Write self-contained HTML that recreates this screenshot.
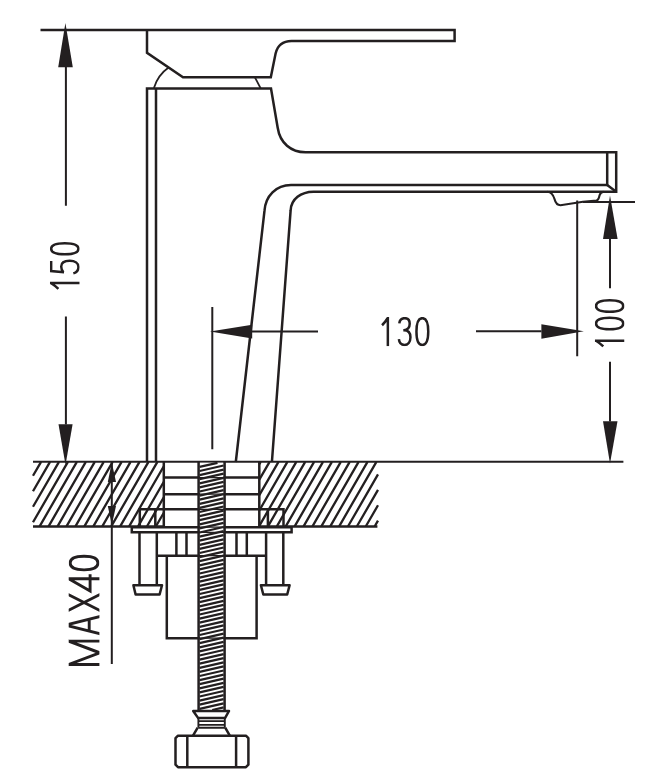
<!DOCTYPE html>
<html><head><meta charset="utf-8"><style>html,body{margin:0;padding:0;background:#fff;}svg{display:block;}</style></head>
<body><svg width="650" height="780" viewBox="0 0 650 780">
<rect width="650" height="780" fill="#fff"/>
<g fill="none" stroke="#231f20" stroke-width="2.5" stroke-linejoin="miter" stroke-linecap="butt">
  <!-- handle -->
  <path d="M40.5,30 H454.6 V40.9 H291.5 C283,41 277.5,45 275.6,53.5 L270.8,77.2 H183 L147,52.8 V30"/>
  <!-- body -->
  <path d="M147,462 V88.5 H271 L277.7,127.7 C280,143 291,152.2 305.5,152.2 H616.2 V191.7 H313.5 C301,191.8 291,199 290.6,210.7 L271.9,462"/>
  <path d="M156,88.5 V462"/>
  <path d="M235.8,462 L264.5,210.7 C265.5,196 276,185 291,185 H607.2 V152.2"/>
  <path d="M607.2,185 L616.2,191.7"/>
  <path d="M547.5,191.7 C551,192 553,194 554.5,199 C555.5,203 557,205.2 560.5,205.2 L583,201.8 L596.5,200.6 C598.5,200 599,198 599.5,195.5 C600,193.5 601,192 603.5,191.7" stroke-width="2.125"/>
</g>
<g fill="none" stroke="#231f20" stroke-width="1.8">
  <path d="M153.9,88 Q158,75 168.6,67.6"/>
  <path d="M254.8,77.2 L260.8,88.7"/>
</g>
<!-- dimension lines -->
<g fill="none" stroke="#231f20" stroke-width="2.0">
  <path d="M65.9,67 V205.8 M65.9,316.5 V424.5"/>
  <path d="M610,238.5 V288.3 M610,361.7 V421.5 M583,202 H635"/>
  <path d="M33,461.8 H623.4"/>
  <path d="M212.3,307 V449.2 M252,331.5 H318 M476,331.3 H541.5 M577.2,200.4 V356.2"/>
  <path d="M111.8,462 V664"/>
</g>
<g fill="#231f20" stroke="none">
  <path d="M65.4,23 L58.2,67.3 H72.8 Z"/>
  <path d="M65.5,465 L58.5,424.2 H72.6 Z"/>
  <path d="M610,195.5 L603,239 H617.6 Z"/>
  <path d="M610,463.5 L603,421.3 H617.5 Z"/>
  <path d="M210,331.5 L252.2,324.8 V338.6 Z"/>
  <path d="M583.8,331.3 L541.4,324.3 V338.7 Z"/>
  <path d="M111.8,462.5 L107.8,482 H116 Z"/>
  <path d="M111.8,525 L107.8,506 H116 Z"/>
</g>
<!-- counter -->
<g fill="none" stroke="#231f20" stroke-width="2.3">
  <path d="M33.00,475.77L41.07,461.80M33.00,491.27L50.02,461.80M33.00,506.77L58.97,461.80M33.00,522.28L67.92,461.80M39.63,526.30L76.87,461.80M48.58,526.30L85.82,461.80M57.53,526.30L94.77,461.80M66.48,526.30L103.72,461.80M75.43,526.30L112.67,461.80M84.38,526.30L121.62,461.80M93.33,526.30L130.57,461.80M102.28,526.30L139.52,461.80M111.23,526.30L148.47,461.80M120.18,526.30L157.42,461.80M129.13,526.30L163.80,466.25M138.08,526.30L163.80,481.75M147.03,526.30L163.80,497.25M155.98,526.30L163.80,512.75"/>
  <path d="M259.30,464.22L260.70,461.80M259.30,479.63L269.60,461.80M259.30,495.05L278.50,461.80M259.30,510.46L287.40,461.80M259.30,525.88L296.30,461.80M267.96,526.30L305.20,461.80M276.86,526.30L314.10,461.80M285.76,526.30L323.00,461.80M294.66,526.30L331.90,461.80M303.56,526.30L340.80,461.80M312.46,526.30L349.70,461.80M321.36,526.30L358.60,461.80M330.26,526.30L367.50,461.80M339.16,526.30L376.40,461.80M348.06,526.30L378.00,474.44M356.96,526.30L378.00,489.85M365.86,526.30L378.00,505.27M374.76,526.30L378.00,520.68"/>
</g>
<g fill="none" stroke="#231f20" stroke-width="2.5">
  <path d="M33,526.4 H163.8 V461.8 M259.3,461.8 V526.4 H377.4"/>
  <path d="M163.8,477.6 H259.3 M163.8,494.2 H259.3 M163.8,509.3 H259.3"/>
  <path d="M139.8,526.4 V509.3 H163.8 M155.3,509.3 V526.4"/>
  <path d="M283.5,526.4 V509.3 H259.3 M267.9,509.3 V526.4"/>
  <path d="M131.8,527.2 H291.6 V532.3 H131.8 Z"/>
  <!-- studs -->
  <path d="M139.5,532.3 V585.2 M156.8,532.3 V585.2 M133.4,585.2 H162 L159.6,594.5 H135.6 Z" stroke-linejoin="round"/>
  <path d="M266.1,532.3 V585.2 M283.3,532.3 V585.2 M260.9,585.2 H289.6 L287.2,594.5 H263.3 Z" stroke-linejoin="round"/>
  <!-- nut block -->
  <path d="M156.8,555.7 H266.1 M176.4,532.3 V555.7 M186.5,532.3 V555.7 M236.5,532.3 V555.7 M246.8,532.3 V555.7"/>
  <path d="M166.8,555.7 V638.2 H256.6 V555.7"/>
</g>
<!-- rod -->
<rect x="199.6" y="462.8" width="24" height="247.4" fill="#fff"/>
<g fill="none" stroke="#231f20" stroke-width="1.3">
  <path d="M198.6,477.6 H224.6 M198.6,494.2 H224.6 M198.6,509.3 H224.6 M198.6,527.2 H224.6 M198.6,532.3 H224.6 M198.6,555.7 H224.6 M198.6,638.2 H224.6"/>
</g>
<g fill="none" stroke="#231f20" stroke-width="2.3">
  <path d="M199.60,466.90L217.49,462.80M199.60,471.00L223.60,465.50M199.60,475.10L223.60,469.60M199.60,479.20L223.60,473.70M199.60,483.30L223.60,477.80M199.60,487.40L223.60,481.90M199.60,491.50L223.60,486.00M199.60,495.60L223.60,490.10M199.60,499.70L223.60,494.20M199.60,503.80L223.60,498.30M199.60,507.90L223.60,502.40M199.60,512.00L223.60,506.50M199.60,516.10L223.60,510.60M199.60,520.20L223.60,514.70M199.60,524.30L223.60,518.80M199.60,528.40L223.60,522.90M199.60,532.50L223.60,527.00M199.60,536.60L223.60,531.10M199.60,540.70L223.60,535.20M199.60,544.80L223.60,539.30M199.60,548.90L223.60,543.40M199.60,553.00L223.60,547.50M199.60,557.10L223.60,551.60M199.60,561.20L223.60,555.70M199.60,565.30L223.60,559.80M199.60,569.40L223.60,563.90M199.60,573.50L223.60,568.00M199.60,577.60L223.60,572.10M199.60,581.70L223.60,576.20M199.60,585.80L223.60,580.30M199.60,589.90L223.60,584.40M199.60,594.00L223.60,588.50M199.60,598.10L223.60,592.60M199.60,602.20L223.60,596.70M199.60,606.30L223.60,600.80M199.60,610.40L223.60,604.90M199.60,614.50L223.60,609.00M199.60,618.60L223.60,613.10M199.60,622.70L223.60,617.20M199.60,626.80L223.60,621.30M199.60,630.90L223.60,625.40M199.60,635.00L223.60,629.50M199.60,639.10L223.60,633.60M199.60,643.20L223.60,637.70M199.60,647.30L223.60,641.80M199.60,651.40L223.60,645.90M199.60,655.50L223.60,650.00M199.60,659.60L223.60,654.10M199.60,663.70L223.60,658.20M199.60,667.80L223.60,662.30M199.60,671.90L223.60,666.40M199.60,676.00L223.60,670.50M199.60,680.10L223.60,674.60M199.60,684.20L223.60,678.70M199.60,688.30L223.60,682.80M199.60,692.40L223.60,686.90M199.60,696.50L223.60,691.00M199.60,700.60L223.60,695.10M199.60,704.70L223.60,699.20M199.60,708.80L223.60,703.30M212.25,710.00L223.60,707.40"/>
</g>
<g fill="none" stroke="#231f20" stroke-width="2.5">
  <path d="M198.6,462 V711 M224.6,462 V711"/>
  <!-- bottom fitting -->
  <path d="M193.2,711 H229 L225,718.1 H198.2 Z" stroke-linejoin="round"/>
  <path d="M198.4,718.1 V727.7 M224.8,718.1 V727.7 M198.4,721.1 H224.8 M198.4,724.9 H224.8 M198.4,727.7 H224.8" stroke-width="1.9"/>
  <path d="M197.7,727.7 L193,735.7 M225.2,727.7 L229.8,735.7"/>
  <path d="M178,735.7 H245.9 L248.4,738.2 V764.7 L245.9,767.2 H178 L175.5,764.7 V738.2 Z" stroke-linejoin="round"/>
  <path d="M187.3,735.7 V767.2 M236.1,735.7 V767.2"/>
</g>
<!-- texts -->
<clipPath id="c130"><rect x="-1" y="0" width="50.20" height="29.30"/></clipPath><g transform="translate(381.3,316.9)" clip-path="url(#c130)" fill="none" stroke="#231f20" stroke-width="2.5" stroke-linejoin="miter" stroke-miterlimit="10"><path transform="translate(0.00,0)" d="M6.55,0 V29.30 M6.65,0.89 C4.95,3.58 2.95,6.16 0.75,8.34"/><path transform="translate(16.40,0)" d="M1.6,6.56 C2,2.78 4.2,1.25 7,1.25 C10.2,1.25 12.0,3.18 12.0,6.75 C12.0,10.73 9.8,13.31 6.2,13.31 H5.6 M6.2,13.31 C10.5,13.31 12.75,15.89 12.75,20.46 C12.75,25.03 10.2,28.05 6.8,28.05 C3.4,28.05 1.5,25.72 1.2,22.25"/><path transform="translate(33.90,0)" d="M7.15,1.25 C11.05,1.25 13.05,5.57 13.05,14.65 C13.05,23.73 11.05,28.05 7.15,28.05 C3.25,28.05 1.25,23.73 1.25,14.65 C1.25,5.57 3.25,1.25 7.15,1.25 Z"/></g>
<clipPath id="c150"><rect x="-1" y="0" width="49.60" height="29.80"/></clipPath><g transform="matrix(0,-1,1,0,49.9,289.6)" clip-path="url(#c150)" fill="none" stroke="#231f20" stroke-width="2.5" stroke-linejoin="miter" stroke-miterlimit="10"><path transform="translate(0.00,0)" d="M6.55,0 V29.80 M6.65,0.91 C4.95,3.64 2.95,6.26 0.75,8.49"/><path transform="translate(15.10,0)" d="M13.6,1.25 H3.4 L2.3,14.14 M2.1,13.54 C3.6,12.12 5.6,11.31 8,11.31 C11.6,11.31 13.75,14.45 13.75,19.80 C13.75,25.25 11.2,28.55 7.6,28.55 C4.4,28.55 2.0,26.47 1.1,23.44"/><path transform="translate(34.00,0)" d="M6.80,1.25 C10.70,1.25 12.35,5.66 12.35,14.90 C12.35,24.14 10.70,28.55 6.80,28.55 C2.90,28.55 1.25,24.14 1.25,14.90 C1.25,5.66 2.90,1.25 6.80,1.25 Z"/></g>
<clipPath id="c100"><rect x="-1" y="0" width="50.20" height="29.70"/></clipPath><g transform="matrix(0,-1,1,0,594.8,347.2)" clip-path="url(#c100)" fill="none" stroke="#231f20" stroke-width="2.5" stroke-linejoin="miter" stroke-miterlimit="10"><path transform="translate(0.00,0)" d="M6.55,0 V29.70 M6.65,0.91 C4.95,3.62 2.95,6.24 0.75,8.46"/><path transform="translate(16.70,0)" d="M7.00,1.25 C10.90,1.25 12.75,5.64 12.75,14.85 C12.75,24.06 10.90,28.45 7.00,28.45 C3.10,28.45 1.25,24.06 1.25,14.85 C1.25,5.64 3.10,1.25 7.00,1.25 Z"/><path transform="translate(34.20,0)" d="M7.00,1.25 C10.90,1.25 12.75,5.64 12.75,14.85 C12.75,24.06 10.90,28.45 7.00,28.45 C3.10,28.45 1.25,24.06 1.25,14.85 C1.25,5.64 3.10,1.25 7.00,1.25 Z"/></g>
<clipPath id="cmax"><rect x="-1" y="0" width="113.10" height="30.70"/></clipPath><g transform="matrix(0,-1,1,0,68.7,665.9)" clip-path="url(#cmax)" fill="none" stroke="#231f20" stroke-width="2.9" stroke-linejoin="miter" stroke-miterlimit="10"><path transform="translate(0.00,0)" d="M1.45,32.70 V-6.00 M24.75,32.70 V-6.00 M-0.85,-6.00 L13.10,31.00 L27.05,-6.00"/><path transform="translate(30.30,0)" d="M1.30,33.70 L10.50,-3.00 L19.70,33.70 M4,20.51 H17.00"/><path transform="translate(53.90,0)" d="M1.30,-1.00 L17.70,31.70 M17.70,-1.00 L1.30,31.70"/><path transform="translate(74.00,0)" d="M13.20,31.70 V0 L1.01,21.40 H17.70"/><path transform="translate(94.60,0)" d="M8.25,1.45 C12.15,1.45 15.05,5.83 15.05,15.35 C15.05,24.87 12.15,29.25 8.25,29.25 C4.35,29.25 1.45,24.87 1.45,15.35 C1.45,5.83 4.35,1.45 8.25,1.45 Z"/></g>
</svg></body></html>
